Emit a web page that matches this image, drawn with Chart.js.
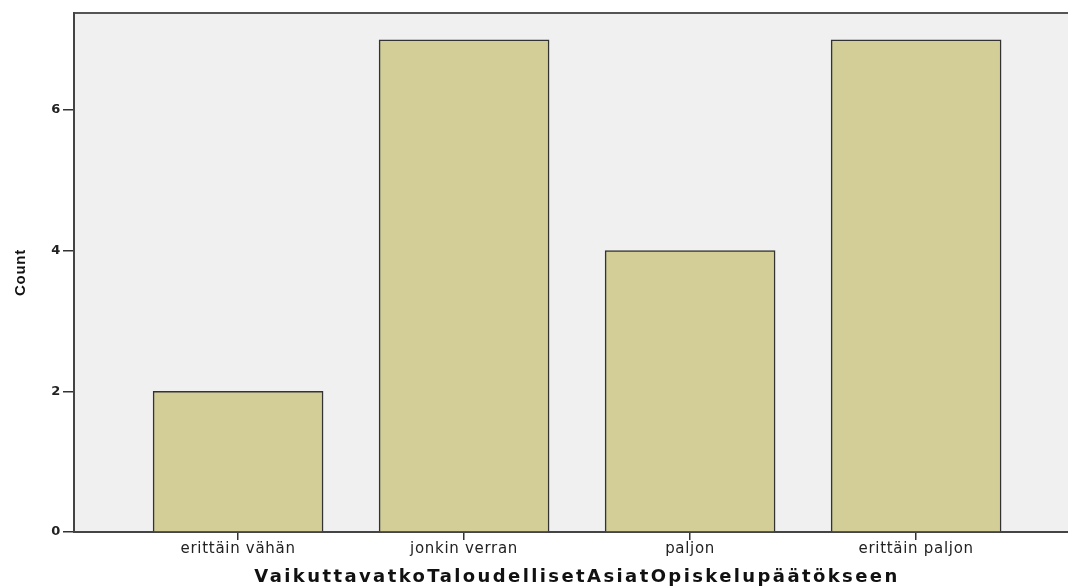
<!DOCTYPE html>
<html>
<head>
<meta charset="utf-8">
<script src="https://cdn.jsdelivr.net/npm/chart.js@4"></script>
<style>
  html, body { margin: 0; padding: 0; background: #fff; }
  #wrap { width: 1068px; height: 588px; }
</style>
</head>
<body>
<div id="wrap"><canvas id="countChart"></canvas></div>
<script>
const categories = ["erittäin vähän", "jonkin verran", "paljon", "erittäin paljon"];
const counts = [2, 7, 4, 7];
const yTicks = [0, 2, 4, 6];
const xTitle = "VaikuttavatkoTaloudellisetAsiatOpiskelupäätökseen";

// harmaa tausta + yläreuna, ja x-akselin otsikko harvennetulla fontilla
const plotFrame = {
    id: "plotFrame",
    beforeDraw(chart) {
        const { ctx, chartArea: a } = chart;
        ctx.save();
        ctx.fillStyle = "#f0f0f0";
        ctx.fillRect(a.left, a.top, a.right - a.left, a.bottom - a.top);
        ctx.strokeStyle = "#555";
        ctx.lineWidth = 2;
        ctx.beginPath();
        ctx.moveTo(a.left, a.top);
        ctx.lineTo(a.right, a.top);
        ctx.stroke();
        ctx.restore();
        // akselitekstit hieman harvemmiksi
        ctx.letterSpacing = "0.7px";
    },
    afterDraw(chart) {
        const { ctx, chartArea: a } = chart;
        ctx.save();
        ctx.font = "bold 18px 'DejaVu Sans'";
        ctx.letterSpacing = "2.4px";
        ctx.fillStyle = "#111";
        ctx.textAlign = "center";
        ctx.textBaseline = "middle";
        ctx.fillText(xTitle, (a.left + a.right) / 2 + 6, 577);
        ctx.restore();
    }
};

const ctx = document.getElementById("countChart").getContext("2d");

new Chart(ctx, {
    type: "bar",
    data: {
        datasets: [{
            label: "Count",
            data: counts.map((c, i) => ({ x: i, y: c })),
            backgroundColor: "#d3ce98",
            borderColor: "#333",
            borderWidth: 1.5,
            barThickness: 170
        }]
    },
    options: {
        responsive: true,
        maintainAspectRatio: false,
        animation: false,
        layout: { padding: { top: 13, right: 0, left: 0, bottom: 0 } },
        plugins: {
            legend: { display: false },
            tooltip: { enabled: false }
        },
        scales: {
            x: {
                type: "linear",
                offset: false,
                min: -0.726,
                max: 3.672,
                afterBuildTicks: axis => { axis.ticks = categories.map((c, i) => ({ value: i })); },
                afterFit: axis => { axis.height = 56; },
                grid: {
                    display: true,
                    offset: false,
                    drawOnChartArea: false,
                    drawTicks: true,
                    tickLength: 8,
                    color: "#333",
                    lineWidth: 1.5
                },
                border: { display: true, color: "#444", width: 2 },
                ticks: {
                    callback: v => categories[v],
                    color: "#222",
                    font: { family: "'DejaVu Sans', sans-serif", size: 15 },
                    padding: 0,
                    maxRotation: 0
                }
            },
            y: {
                min: 0,
                max: 7.38,
                afterBuildTicks: axis => { axis.ticks = yTicks.map(v => ({ value: v })); },
                afterFit: axis => { axis.width = 74; },
                grid: {
                    display: true,
                    drawOnChartArea: false,
                    drawTicks: true,
                    tickLength: 11,
                    color: "#333",
                    lineWidth: 1.5
                },
                border: { display: true, color: "#444", width: 2 },
                ticks: {
                    color: "#222",
                    font: { family: "'DejaVu Sans', sans-serif", size: 13, weight: "bold" },
                    padding: 2
                },
                title: {
                    display: true,
                    text: "Count",
                    color: "#111",
                    font: { family: "'Liberation Sans', Arial, sans-serif", size: 15, weight: "bold" },
                    padding: { top: 12, bottom: 0 }
                }
            }
        }
    },
    plugins: [plotFrame]
});
</script>
</body>
</html>
